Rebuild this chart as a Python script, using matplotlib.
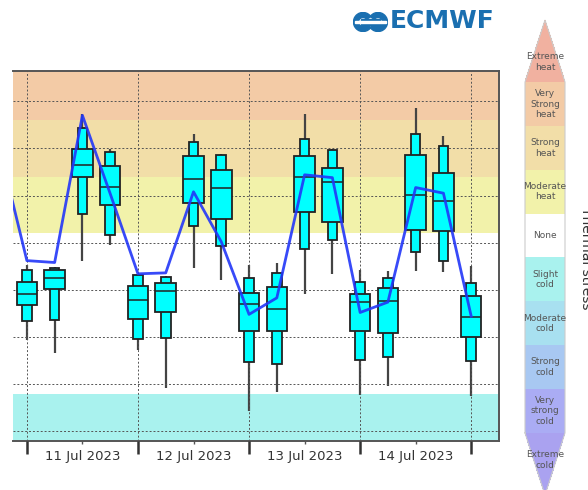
import numpy as np
import pandas as pd
import matplotlib
matplotlib.use("Agg")
import matplotlib.pyplot as plt
import matplotlib.dates as mdates
from matplotlib.colors import ListedColormap, BoundaryNorm
from matplotlib.cm import ScalarMappable
from matplotlib.patches import Wedge, Rectangle

# UTCI ensemble distribution, every 6 hours from 11 Jul 00 UTC
times = pd.date_range("2023-07-11 00:00", periods=17, freq="6h")
t_max = [22.6, 22.45, 38.6, 34.9, 21.7, 21.45, 36.5, 34.4, 22.6, 22.9, 38.6, 34.9, 22.15, 22.0, 39.3, 36.3, 22.5]
p90 = [22.1, 22.3, 37.2, 34.6, 21.56, 21.4, 35.7, 34.3, 21.3, 21.8, 36.0, 34.85, 20.8, 21.3, 36.5, 35.3, 20.7]
p75 = [20.85, 22.1, 34.9, 33.1, 20.4, 20.7, 34.2, 32.7, 19.65, 20.3, 34.15, 32.9, 19.6, 20.15, 34.25, 32.4, 19.3]
p50 = [19.6, 21.3, 33.2, 30.9, 18.9, 19.9, 31.75, 30.75, 18.5, 18.0, 32.0, 31.4, 18.7, 18.8, 30.1, 29.4, 17.1]
p25 = [18.4, 20.1, 31.95, 29.0, 16.95, 17.6, 29.2, 27.5, 15.6, 15.6, 28.3, 27.2, 15.6, 15.4, 26.35, 26.2, 15.0]
p10 = [16.7, 16.85, 28.0, 25.85, 14.75, 14.85, 26.8, 24.65, 12.4, 12.15, 24.3, 25.3, 12.6, 12.85, 24.05, 23.1, 12.45]
t_min = [14.65, 13.3, 23.05, 24.75, 13.65, 9.6, 22.3, 21.0, 7.1, 9.15, 19.6, 21.7, 8.9, 9.85, 22.0, 21.9, 8.7]

# high resolution forecast (starts one step earlier)
hres_times = pd.date_range("2023-07-10 18:00", periods=18, freq="6h")
hres = [35.2, 23.1, 22.9, 38.5, 30.2, 21.7, 21.8, 30.4, 25.1, 17.4, 19.15, 32.2, 31.9, 17.6, 18.7, 30.85, 30.25, 17.2]

# thermal stress categories
stress_bounds = [-40, -27, -13, 0, 9, 26, 32, 38, 46]
stress_names = ["Extreme\ncold", "Very\nstrong\ncold", "Strong\ncold", "Moderate\ncold", "Slight\ncold",
                "None", "Moderate\nheat", "Strong\nheat", "Very\nStrong\nheat", "Extreme\nheat"]
stress_colors = ["#aaa2f0", "#aaacf4", "#a8c8f2", "#a8e0f0", "#a9f2ee",
                 "#ffffff", "#f2f2aa", "#f2dea8", "#f3cba6", "#f1b1a0"]

fig = plt.figure(figsize=(5.88, 4.9), dpi=100)
ax = fig.add_axes([0.0221, 0.0994, 0.8265, 0.7567])

# background bands
edges = [-100] + stress_bounds + [100]
for i in range(len(stress_colors)):
    ax.axhspan(edges[i], edges[i + 1], color=stress_colors[i], zorder=0, lw=0)

x = mdates.date2num(times)
wide = 0.185
narrow = 0.087
ax.vlines(x, t_min, t_max, color="#444444", lw=1.6, zorder=2)
ax.bar(x, np.array(p90) - np.array(p10), bottom=p10, width=narrow, color="cyan",
       edgecolor="#222222", lw=1.3, zorder=3)
ax.bar(x, np.array(p75) - np.array(p25), bottom=p25, width=wide, color="cyan",
       edgecolor="#222222", lw=1.3, zorder=4)
ax.hlines(p50, x - wide / 2, x + wide / 2, color="#222222", lw=1.1, zorder=5)

ax.plot(mdates.date2num(hres_times), hres, color="#2236f8", lw=2, alpha=0.9, zorder=6)

ax.set_xlim(mdates.date2num(pd.Timestamp("2023-07-10 21:00")),
            mdates.date2num(pd.Timestamp("2023-07-15 06:00")))
ax.set_ylim(3.94, 43.26)

# days on major ticks, labels centred on noon
ax.xaxis.set_major_locator(mdates.DayLocator())
ax.xaxis.set_major_formatter(plt.NullFormatter())
ax.xaxis.set_minor_locator(mdates.HourLocator(byhour=12))
ax.xaxis.set_minor_formatter(mdates.DateFormatter("%d %b %Y"))
ax.tick_params(axis="x", which="major", length=9, width=1.8, color="#333333")
ax.tick_params(axis="x", which="minor", length=2.5, width=1, color="#555555",
               labelsize=9.5, labelcolor="#333333", pad=4)
ax.set_yticks(np.arange(5, 45, 5))
ax.tick_params(axis="y", length=0, labelleft=False)
ax.grid(True, which="major", color="#555555", ls=(0, (2, 2)), lw=0.7)
ax.set_axisbelow(False)
for side in ["top", "bottom", "right"]:
    ax.spines[side].set_color("#555555")
    ax.spines[side].set_linewidth(1.4)
ax.spines["left"].set_visible(False)

# thermal stress colour bar (axes box includes the two end triangles)
cax = fig.add_axes([525 / 588, 1 - 495 / 490, 40 / 588, 475 / 490])
cmap = ListedColormap(stress_colors[1:-1])
cmap.set_under(stress_colors[0])
cmap.set_over(stress_colors[-1])
norm = BoundaryNorm(stress_bounds, cmap.N)
cb = fig.colorbar(ScalarMappable(norm=norm, cmap=cmap), cax=cax, extend="both",
                  extendfrac=0.177, spacing="uniform")
cb.set_ticks([])
cb.minorticks_off()
cax.tick_params(which="both", length=0, labelright=False)
cb.outline.set_edgecolor("#cccccc")
cb.outline.set_linewidth(0.8)
n = len(stress_names) - 2
for i, name in enumerate(stress_names[1:-1]):
    cax.text(0.5, (i + 0.5) / n, name, transform=cax.transAxes, ha="center", va="center",
             fontsize=6.5, color="#555555")
cax.text(0.5, -0.077, stress_names[0], transform=cax.transAxes, ha="center", va="center",
         fontsize=6.5, color="#555555", clip_on=False)
cax.text(0.5, 1.057, stress_names[-1], transform=cax.transAxes, ha="center", va="center",
         fontsize=6.5, color="#555555", clip_on=False)
fig.text(579 / 588, 1 - 258 / 490, "Thermal stress", rotation=270, ha="left", va="center",
         fontsize=10, color="#333333")

# ECMWF logo
logo_blue = "#1a6fb0"
lax = fig.add_axes([353 / 588, 1 - 32 / 490, 35 / 588, 20 / 490])
lax.set_xlim(0, 35)
lax.set_ylim(0, 20)
lax.axis("off")
lax.add_patch(Wedge((10, 10), 9.5, 35, 325, width=5, color=logo_blue))
lax.add_patch(Wedge((25, 10), 9.5, -145, 145, width=5, color=logo_blue))
lax.add_patch(Rectangle((8, 7), 19, 6, color=logo_blue))
lax.add_patch(Rectangle((2, 9.4), 31, 1.3, color="white"))
fig.text(390 / 588, 1 - 21 / 490, "ECMWF", fontsize=18, fontweight="bold",
         color=logo_blue, ha="left", va="center")

plt.savefig("out.png", dpi=100)
